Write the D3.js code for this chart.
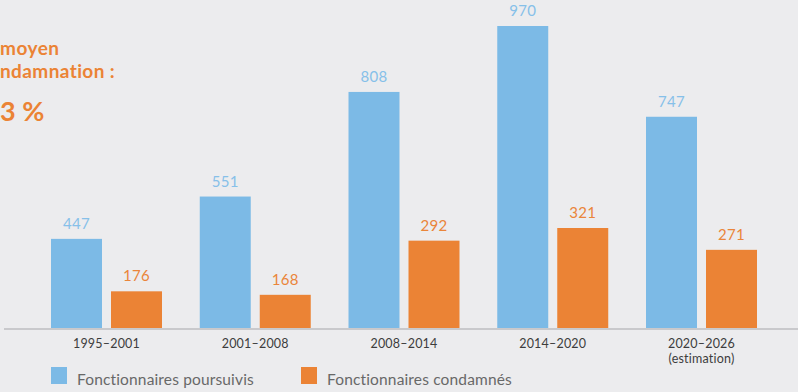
<!DOCTYPE html>
<html><head><meta charset="utf-8">
<script src="https://cdn.jsdelivr.net/npm/d3@7"></script>
<style>
html,body{margin:0;padding:0;background:#ececee;}
svg{display:block;font-family:Lato,"Open Sans",sans-serif;}
</style></head><body>
<svg id="c" width="798" height="392"></svg>
<script>
const categories = ["1995–2001","2001–2008","2008–2014","2014–2020","2020–2026"];
const categoryNotes = ["","","","","(estimation)"];
const poursuivis = [447, 551, 808, 970, 747];
const condamnes = [176, 168, 292, 321, 271];
const seriesNames = ["Fonctionnaires poursuivis","Fonctionnaires condamnés"];
// visible (cropped) part of the headline in the reference
const headline = ["moyen", "ndamnation :", "3 %"];

const colBlue = "#7cbae6", colOrange = "#eb8335";
const svg = d3.select("#c");
const baseY = 328;

const x0 = d3.scaleBand().domain(categories).range([51, 757]).paddingInner(0.2538).paddingOuter(0);
const x1 = d3.scaleBand().domain(seriesNames).range([0, x0.bandwidth()]).paddingInner(0.15);
// Infographic bars follow separate visual scales per series
const yP = d3.scaleLinear().domain([228, 970]).range([baseY, baseY - 302]);
const yC = d3.scaleLinear().domain([92, 321]).range([baseY, baseY - 100]);

const series = [
  {name: seriesNames[0], values: poursuivis, y: yP, color: colBlue, label: "#86c0e9"},
  {name: seriesNames[1], values: condamnes, y: yC, color: colOrange, label: "#ea853a"}
];

series.forEach(s => {
  const g = svg.append("g");
  g.selectAll("rect").data(s.values).join("rect")
    .attr("x", (d,i) => x0(categories[i]) + x1(s.name))
    .attr("y", d => s.y(d))
    .attr("width", x1.bandwidth())
    .attr("height", d => baseY - s.y(d))
    .attr("fill", s.color);
  g.selectAll("text").data(s.values).join("text")
    .attr("x", (d,i) => x0(categories[i]) + x1(s.name) + x1.bandwidth()/2)
    .attr("y", d => s.y(d) - 10)
    .attr("text-anchor", "middle")
    .attr("font-size", 15)
    .attr("letter-spacing", 0.3)
    .attr("fill", s.label)
    .text(d => d);
});

// axis line
svg.append("rect").attr("x", 4).attr("y", baseY).attr("width", 794).attr("height", 2).attr("fill", "#c9c9cc");

const axis = d3.axisBottom(x0).tickSize(0).tickPadding(0);
const ag = svg.append("g").attr("transform", `translate(0,${baseY})`).call(axis)
  .attr("font-family", "Lato, sans-serif").attr("font-size", 12.5);
ag.select(".domain").remove();
ag.selectAll(".tick text").attr("y", 11).attr("fill", "#3d3d3d").attr("letter-spacing", 0.2);
ag.selectAll(".tick").each(function(d,i){
  if (categoryNotes[i]) d3.select(this).append("text").attr("y", 26).attr("dy","0.71em")
    .attr("text-anchor","middle").attr("fill","#3d3d3d").attr("letter-spacing", 0.2).text(categoryNotes[i]);
});

// legend
const lg = svg.append("g");
const legX = [51, 301];
series.forEach((s,i) => {
  lg.append("rect").attr("x", legX[i]).attr("y", 367).attr("width", 16).attr("height", 17).attr("fill", s.color);
  lg.append("text").attr("x", legX[i] + 26).attr("y", 385).attr("font-size", 15.5)
    .attr("letter-spacing", 0.15).attr("fill", "#686868")
    .text(s.name);
});

// headline
const hg = svg.append("g").attr("fill", colOrange).attr("font-weight", "bold").attr("text-anchor", "start");
hg.append("text").attr("x", 0).attr("y", 55).attr("font-size", 19).attr("letter-spacing", 0.5).text(headline[0]);
hg.append("text").attr("x", 0).attr("y", 78).attr("font-size", 19).attr("letter-spacing", 0.4).text(headline[1]);
hg.append("text").attr("x", 0).attr("y", 121).attr("font-size", 27).text(headline[2]);
</script>
</body></html>
